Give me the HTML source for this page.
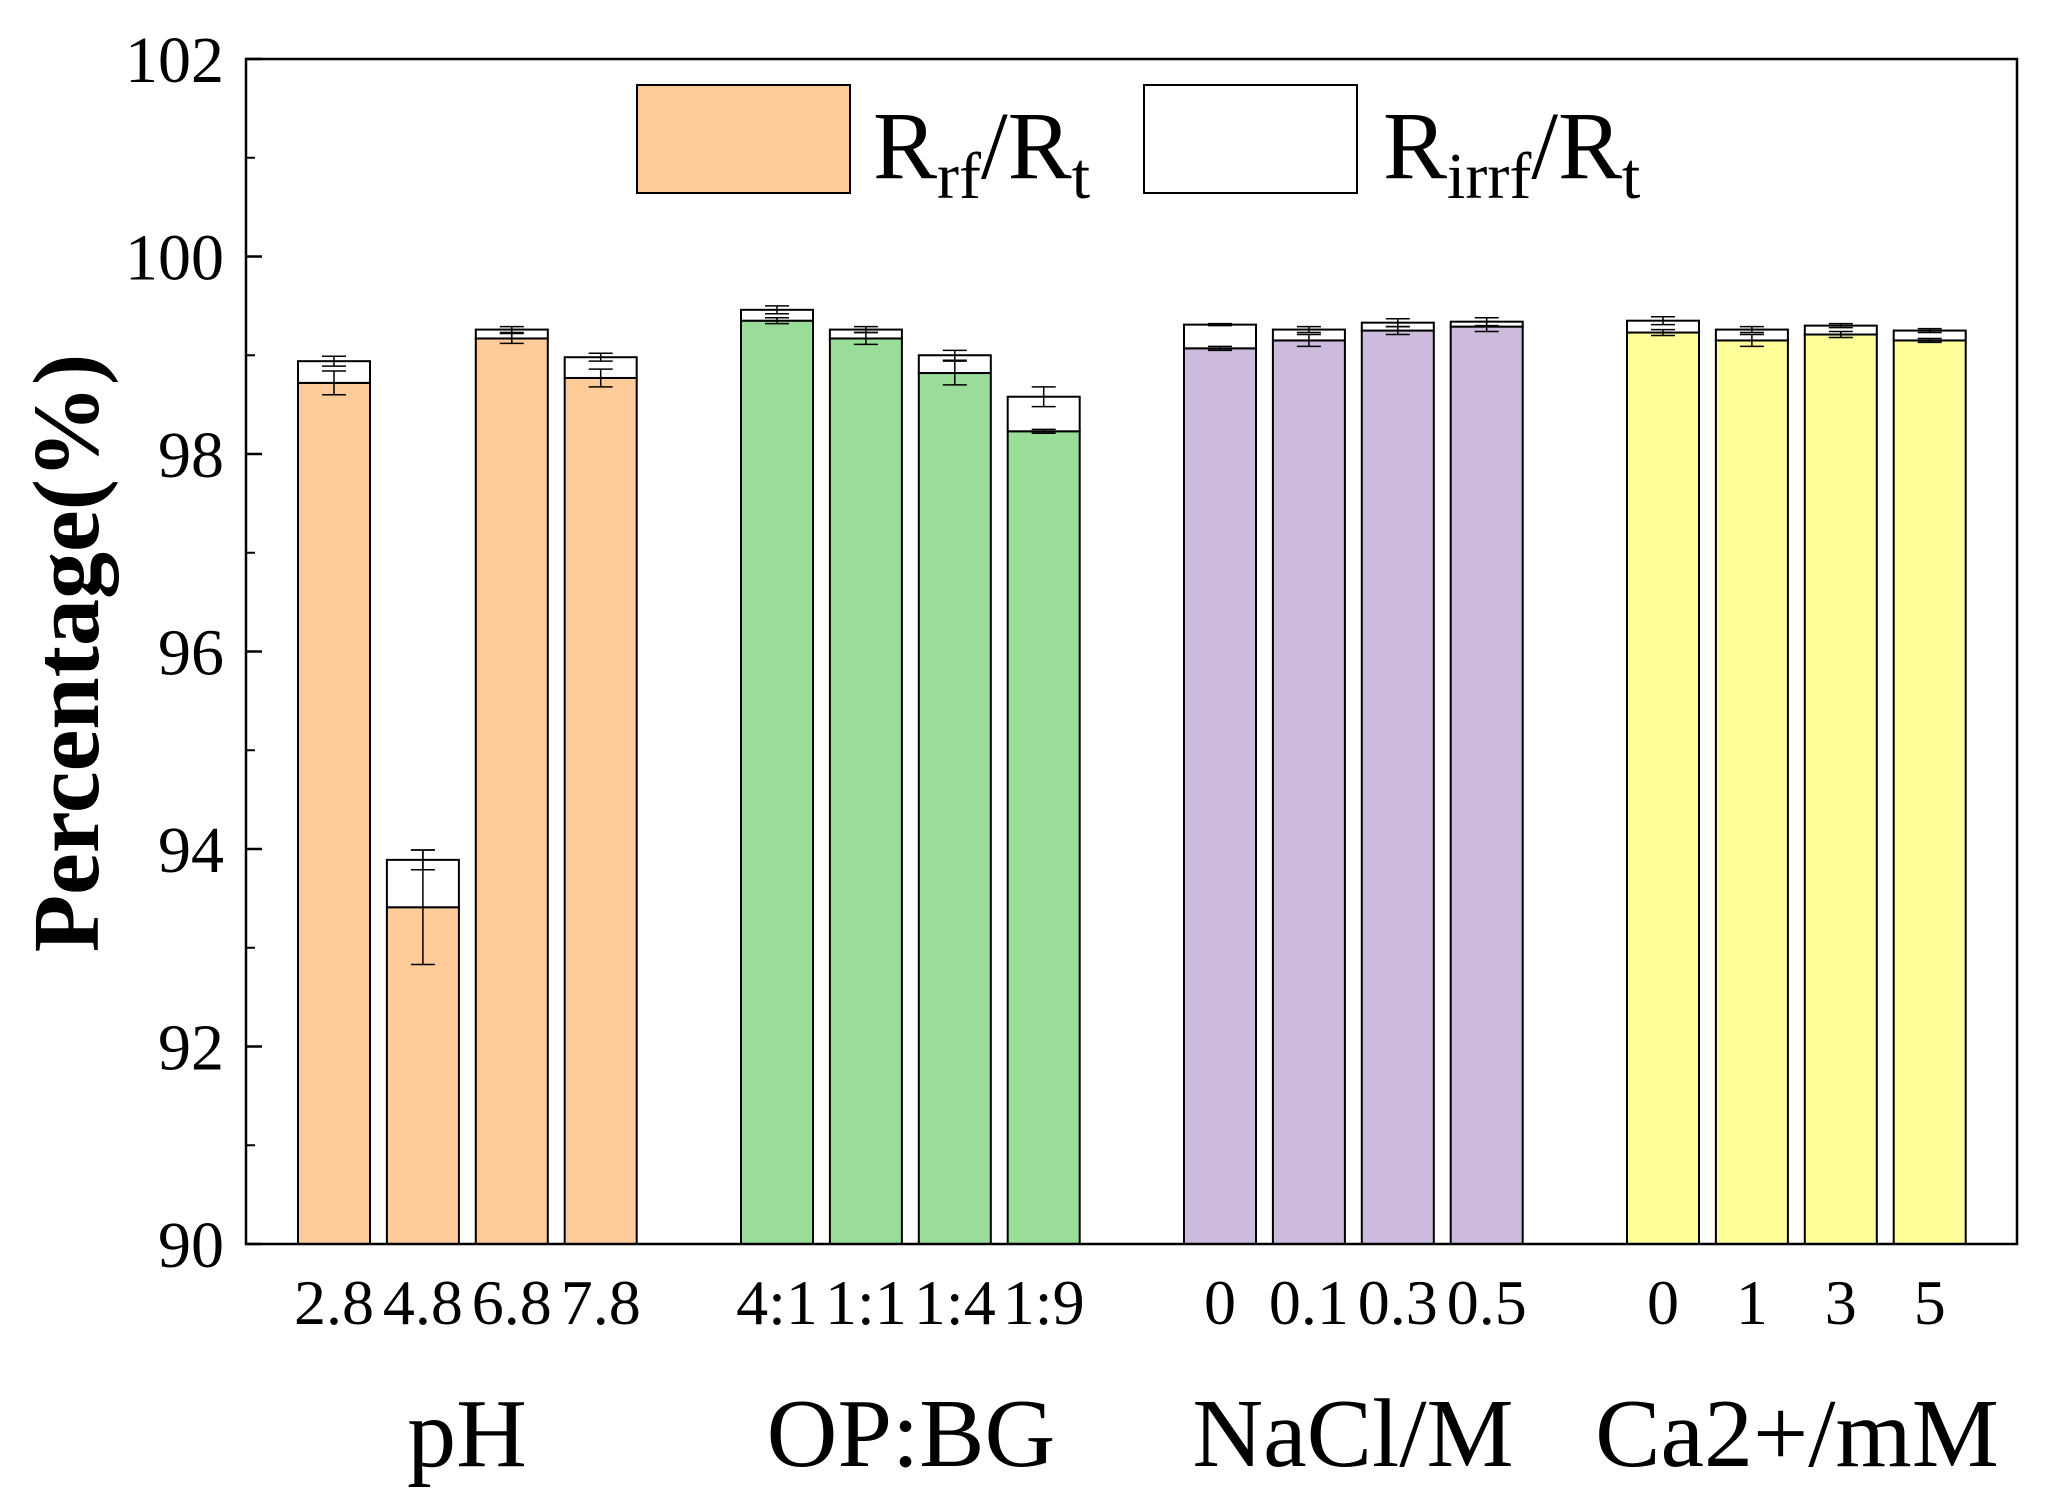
<!DOCTYPE html>
<html><head><meta charset="utf-8"><style>
html,body{margin:0;padding:0;background:#fff}
svg{display:block;font-family:"Liberation Serif",serif}
</style></head><body>
<svg id="chart" width="2050" height="1511" viewBox="0 0 2050 1511" xmlns="http://www.w3.org/2000/svg">
<rect x="0" y="0" width="2050" height="1511" fill="#fff"/>
<g id="bars"></g>
<g id="axes"></g>
<g>
<rect x="637" y="85" width="213" height="108" fill="#FFCC99" stroke="#000" stroke-width="2"/>
<text x="873" y="178" font-size="96">R<tspan font-size="66" dy="20">rf</tspan><tspan dy="-20">/R</tspan><tspan font-size="66" dy="20">t</tspan></text>
<rect x="1144" y="85" width="213" height="108" fill="#fff" stroke="#000" stroke-width="2"/>
<text x="1383" y="178" font-size="96">R<tspan font-size="66" dy="20">irrf</tspan><tspan dy="-20">/R</tspan><tspan font-size="66" dy="20">t</tspan></text>
</g>
<text transform="translate(98,653) rotate(-90)" text-anchor="middle" font-size="94" font-weight="bold">Percentage(%)</text>
</svg>
<script>
const categories = ["2.8","4.8","6.8","7.8","4:1","1:1","1:4","1:9","0","0.1","0.3","0.5","0","1","3","5"];
const groupNames = ["pH","OP:BG","NaCl/M","Ca2+/mM"];
const rfValues = [98.72,93.41,99.17,98.77, 99.35,99.17,98.82,98.23, 99.07,99.15,99.25,99.29, 99.23,99.15,99.21,99.15];
const irrfValues = [0.22,0.48,0.09,0.21, 0.11,0.09,0.18,0.35, 0.24,0.11,0.08,0.05, 0.12,0.11,0.09,0.10];
const rfErr = [0.12,0.58,0.05,0.09, 0.03,0.06,0.12,0.02, 0.02,0.06,0.04,0.05, 0.03,0.06,0.03,0.02];
const irrfErr = [0.05,0.10,0.03,0.04, 0.04,0.03,0.05,0.10, 0.01,0.03,0.04,0.04, 0.04,0.03,0.02,0.02];
const yTicks = [90,92,94,96,98,100,102];
const groupColors = ["#FFCC99","#99DD99","#CCBBDD","#FFFF99"];

const NS="http://www.w3.org/2000/svg";
const L=246,R=2017,T=59,B=1244,yMin=90,yMax=102;
const y=v=>B-(v-yMin)/(yMax-yMin)*(B-T);
const barW=72;
const xLeft=i=>298+Math.floor(i/4)*443+(i%4)*88.9;
function mk(tag,attrs,parent){const e=document.createElementNS(NS,tag);for(const k in attrs)e.setAttribute(k,attrs[k]);parent.appendChild(e);return e;}
const bars=document.getElementById('bars'), axes=document.getElementById('axes');
function errBar(cx,v,e,name){
  const g=mk('g',{stroke:'#000','stroke-width':1.5},bars);
  
  
  mk('line',{x1:cx,x2:cx,y1:y(v+e),y2:y(v-e)},g);
  mk('line',{x1:cx-12,x2:cx+12,y1:y(v+e),y2:y(v+e)},g);
  mk('line',{x1:cx-12,x2:cx+12,y1:y(v-e),y2:y(v-e)},g);
}
categories.forEach((c,i)=>{
  const x0=xLeft(i), cx=x0+barW/2, rf=rfValues[i], tot=rf+irrfValues[i];
  const r1=mk('rect',{x:x0,y:y(rf),width:barW,height:B-y(rf),fill:groupColors[Math.floor(i/4)],stroke:'#000','stroke-width':2},bars);
  
  
  const r2=mk('rect',{x:x0,y:y(tot),width:barW,height:y(rf)-y(tot),fill:'#fff',stroke:'#000','stroke-width':2},bars);
  
  
  errBar(cx,rf,rfErr[i],'error-rrf-'+i);
  errBar(cx,tot,irrfErr[i],'error-rirrf-'+i);
  const t=mk('text',{x:cx,y:1324,'text-anchor':'middle','font-size':64},axes);
  t.textContent=c;
  
  
});
const gx=[467,911,1353,1797];
groupNames.forEach((g,k)=>{
  const t=mk('text',{x:gx[k],y:1466,'text-anchor':'middle','font-size':98},axes);
  t.textContent=g;
  
  
});
const frame=mk('rect',{x:L,y:T,width:R-L,height:B-T,fill:'none',stroke:'#000','stroke-width':2.5},axes);


yTicks.forEach((v,k)=>{
  mk('line',{x1:L,x2:L+16,y1:y(v),y2:y(v),stroke:'#000','stroke-width':2.5},axes);
  if(k<yTicks.length-1) mk('line',{x1:L,x2:L+9,y1:y(v+1),y2:y(v+1),stroke:'#000','stroke-width':2},axes);
  const t=mk('text',{x:224,y:y(v)+23,'text-anchor':'end','font-size':66},axes);
  t.textContent=v;
  
  
});
</script>
</body></html>
